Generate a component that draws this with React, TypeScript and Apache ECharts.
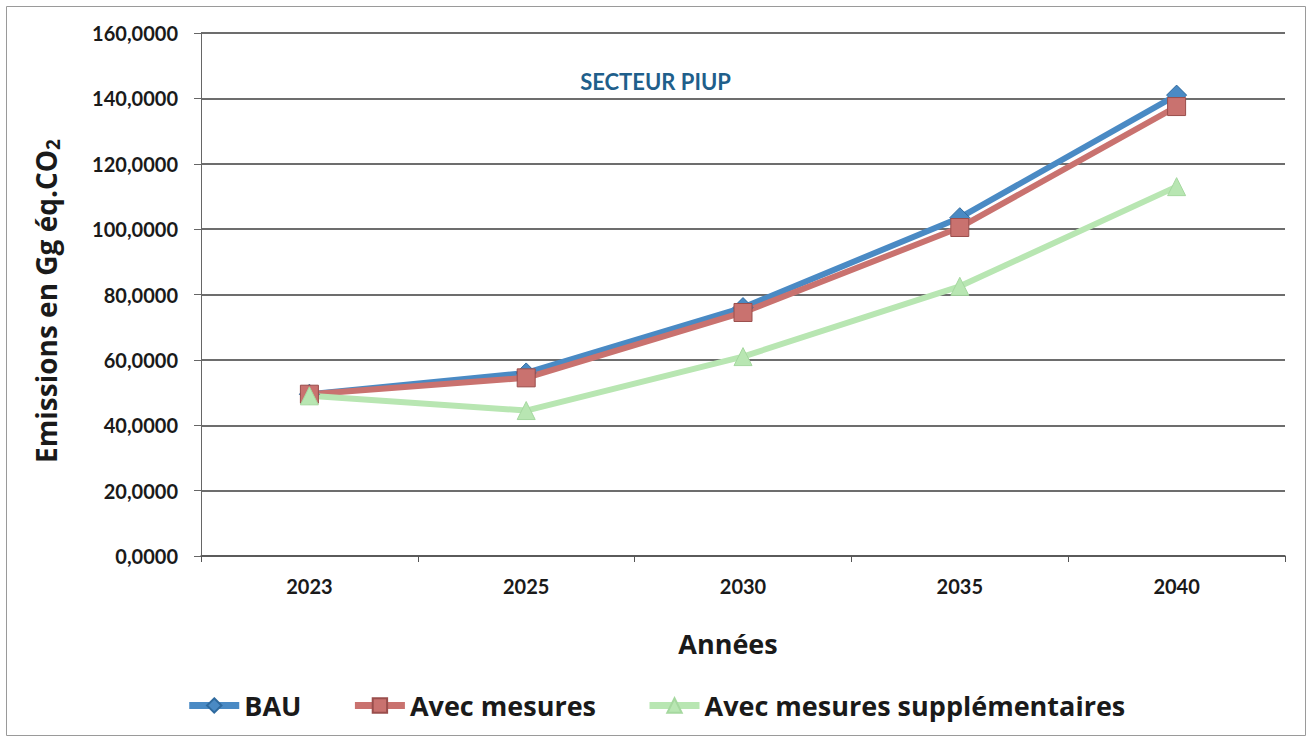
import React, { useEffect, useRef } from "react";
import * as echarts from "echarts";

const categories = ["2023", "2025", "2030", "2035", "2040"];
const bau = [49.5, 56, 76, 103.5, 141];
const avecMesures = [49.5, 54.5, 74.5, 100.5, 137.5];
const avecMesuresSupp = [49, 44.5, 61, 82.5, 113];
const seriesNames = ["BAU", "Avec mesures", "Avec mesures supplémentaires"];
const yMin = 0;
const yMax = 160;
const yInterval = 20;

const FONT = "Lato, 'Open Sans', sans-serif";
const FONT_WIDE = "'Open Sans', Lato, sans-serif";

export default function App() {
  const ref = useRef<HTMLDivElement>(null);
  useEffect(() => {
    document.body.style.margin = "0";
    const chart = echarts.init(ref.current!, null, { renderer: "svg" });
    const mk = (name: string, data: number[], color: string, border: string, symbol: string, size: number | number[]) => ({
      name,
      type: "line",
      data,
      symbol,
      symbolSize: size,
      lineStyle: { color, width: 6 },
      itemStyle: { color, borderColor: border, borderWidth: 1 },
      emphasis: { disabled: true },
    });
    chart.setOption({
      animation: false,
      backgroundColor: "#ffffff",
      textStyle: { fontFamily: FONT },
      grid: { left: 201, right: 26, top: 33, bottom: 186, containLabel: false },
      title: {
        text: "SECTEUR PIUP",
        left: "center",
        top: 65,
        textStyle: { color: "#1f5f8b", fontSize: 22, fontWeight: "bold", fontFamily: FONT },
      },
      legend: {
        data: seriesNames,
        bottom: 18,
        left: "center",
        itemWidth: 50,
        itemHeight: 18,
        itemGap: 50,
        lineStyle: { width: 7 },
        textStyle: { fontSize: 27, fontWeight: "bold", color: "#1a1a1a", fontFamily: FONT_WIDE },
      },
      xAxis: {
        type: "category",
        data: categories,
        boundaryGap: true,
        axisLine: { lineStyle: { color: "#555", width: 1.5 } },
        axisTick: { show: true, length: 6, lineStyle: { color: "#555" } },
        axisLabel: { fontSize: 20, fontWeight: "bold", color: "#1a1a1a", margin: 20, fontFamily: FONT },
      },
      yAxis: {
        type: "value",
        min: yMin,
        max: yMax,
        interval: yInterval,
        axisLine: { show: true, lineStyle: { color: "#666", width: 1 } },
        axisTick: { show: true, length: 7, lineStyle: { color: "#666" } },
        axisLabel: {
          fontSize: 20,
          fontWeight: "bold",
          color: "#1a1a1a",
          margin: 23,
          fontFamily: FONT,
          formatter: (v: number) => v.toFixed(4).replace(".", ","),
        },
        splitLine: { show: true, lineStyle: { color: "#3c3c3c", width: 1.5 } },
      },
      series: [
        mk(seriesNames[0], bau, "#4a8ac4", "#2f6a9e", "diamond", [20, 20]),
        mk(seriesNames[1], avecMesures, "#c9726f", "#9a4e4c", "rect", 18),
        mk(seriesNames[2], avecMesuresSupp, "#b8e6b2", "#a5d89f", "triangle", 18),
      ],
      graphic: [
        {
          type: "rect",
          shape: { x: 6.5, y: 6.5, width: 1299, height: 729 },
          style: { fill: "none", stroke: "#9a9a9a", lineWidth: 1 },
          silent: true,
        },
        {
          type: "text",
          x: 46,
          y: 301,
          rotation: Math.PI / 2,
          style: {
            text: "Emissions en Gg éq.CO{sub|2}",
            fontSize: 28,
            fontWeight: "bold",
            fontFamily: FONT_WIDE,
            fill: "#1a1a1a",
            align: "center",
            verticalAlign: "middle",
            rich: {
              sub: { fontSize: 19, fontWeight: "bold", fontFamily: FONT_WIDE, fill: "#1a1a1a", padding: [14, 0, 0, 0] },
            },
          },
        },
        {
          type: "text",
          x: 728,
          y: 643,
          style: {
            text: "Années",
            fontSize: 27,
            fontWeight: "bold",
            fontFamily: FONT_WIDE,
            fill: "#1a1a1a",
            align: "center",
            verticalAlign: "middle",
          },
        },
      ],
    });
    return () => chart.dispose();
  }, []);
  return <div ref={ref} style={{ width: 1311, height: 742 }} />;
}
